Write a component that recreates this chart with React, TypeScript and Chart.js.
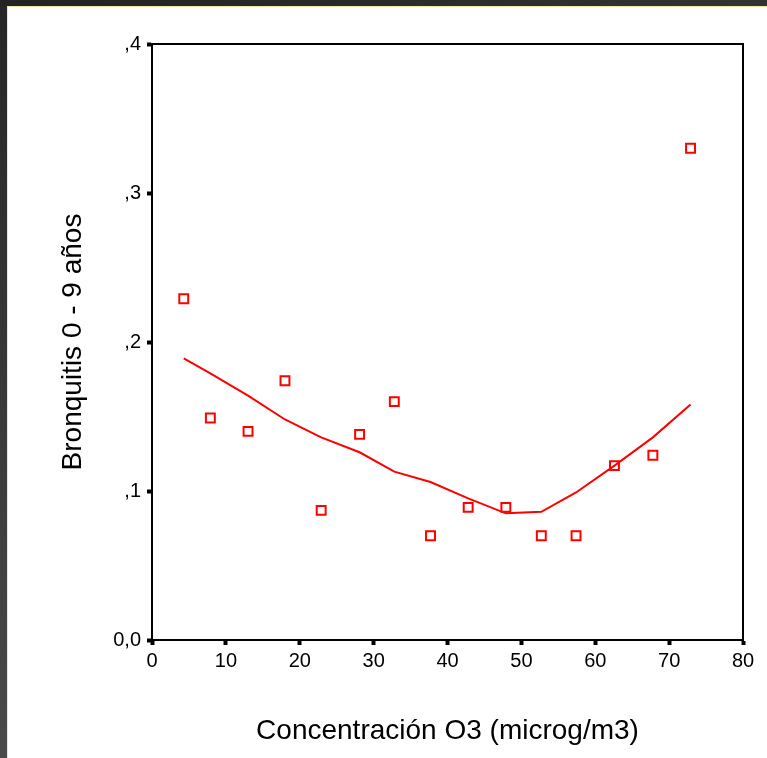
import React, { useEffect, useRef } from "react";
import { Chart, registerables } from "chart.js";

Chart.register(...registerables);

const concentration = [4.3, 7.9, 13.0, 18.0, 22.9, 28.1, 32.8, 37.7, 42.8, 47.9, 52.7, 57.4, 62.6, 67.8, 72.9];
const bronquitis = [0.229, 0.149, 0.140, 0.174, 0.087, 0.138, 0.160, 0.070, 0.089, 0.089, 0.070, 0.070, 0.117, 0.124, 0.330];
const fitted = [0.189, 0.179, 0.164, 0.148, 0.136, 0.126, 0.113, 0.106, 0.095, 0.085, 0.086, 0.099, 0.117, 0.136, 0.158];

const xTitle = "Concentración O3 (microg/m3)";
const yTitle = "Bronquitis 0 - 9 años";

const W = 767;
const H = 758;

const framePlugin = {
  id: "frame",
  beforeDraw(chart: any) {
    const ctx = chart.ctx;
    ctx.save();
    ctx.fillStyle = "#ffffff";
    ctx.fillRect(0, 0, W, H);
    const grad = ctx.createLinearGradient(0, 0, 0, H);
    grad.addColorStop(0, "#262626");
    grad.addColorStop(1, "#4a4a4a");
    ctx.fillStyle = grad;
    ctx.fillRect(0, 0, 7, H);
    const gradTop = ctx.createLinearGradient(0, 0, W, 0);
    gradTop.addColorStop(0, "#232323");
    gradTop.addColorStop(1, "#333333");
    ctx.fillStyle = gradTop;
    ctx.fillRect(0, 0, W, 6);
    ctx.fillStyle = "#efe9a8";
    ctx.fillRect(7, 6, W - 7, 1);
    ctx.fillRect(7, 6, 1, H - 6);
    ctx.restore();
  },
  afterDraw(chart: any) {
    const { ctx, chartArea } = chart;
    ctx.save();
    ctx.strokeStyle = "#000000";
    ctx.lineWidth = 2;
    ctx.beginPath();
    ctx.moveTo(chartArea.left, chartArea.top);
    ctx.lineTo(chartArea.right, chartArea.top);
    ctx.lineTo(chartArea.right, chartArea.bottom);
    ctx.stroke();
    ctx.restore();
  },
};

export default function App() {
  const ref = useRef<HTMLCanvasElement | null>(null);

  useEffect(() => {
    if (!ref.current) return;
    const chart = new Chart(ref.current, {
      type: "scatter",
      data: {
        datasets: [
          {
            type: "line",
            data: concentration.map((x, i) => ({ x, y: fitted[i] })),
            borderColor: "#ff0000",
            borderWidth: 2,
            pointRadius: 0,
            tension: 0,
            fill: false,
          },
          {
            type: "scatter",
            data: concentration.map((x, i) => ({ x, y: bronquitis[i] })),
            pointStyle: "rect",
            pointRadius: 6.3,
            pointBorderWidth: 2,
            borderColor: "#ff0000",
            backgroundColor: "rgba(255,255,255,0)",
          },
        ],
      },
      options: {
        responsive: false,
        animation: false,
        devicePixelRatio: 1,
        layout: { padding: { top: 44, right: 24, left: 0, bottom: 0 } },
        plugins: { legend: { display: false }, tooltip: { enabled: false } },
        scales: {
          x: {
            type: "linear",
            min: 0,
            max: 80,
            afterFit(scale: any) {
              scale.height = 118;
            },
            ticks: {
              stepSize: 10,
              color: "#000000",
              padding: 4,
              font: { family: "'Liberation Sans', Arial, sans-serif", size: 20 },
              maxRotation: 0,
            },
            grid: {
              drawOnChartArea: false,
              drawTicks: true,
              tickLength: 5,
              tickWidth: 4,
              tickColor: "#000000",
            },
            border: { display: true, color: "#000000", width: 2 },
            title: {
              display: true,
              text: xTitle,
              color: "#000000",
              font: { family: "'Liberation Sans', Arial, sans-serif", size: 28 },
              padding: { top: 0, bottom: 10 },
            },
          },
          y: {
            type: "linear",
            min: 0,
            max: 0.4,
            afterFit(scale: any) {
              scale.width = 152;
            },
            ticks: {
              stepSize: 0.1,
              color: "#000000",
              padding: 6,
              font: { family: "'Liberation Sans', Arial, sans-serif", size: 20 },
              callback: (v: any) => {
                const n = Number(v);
                if (Math.abs(n) < 1e-9) return "0,0";
                return "," + String(Math.round(n * 10));
              },
            },
            grid: {
              drawOnChartArea: false,
              drawTicks: true,
              tickLength: 5,
              tickWidth: 4,
              tickColor: "#000000",
            },
            border: { display: true, color: "#000000", width: 2 },
            title: {
              display: true,
              text: yTitle,
              color: "#000000",
              font: { family: "'Liberation Sans', Arial, sans-serif", size: 28 },
              padding: { top: 56, bottom: 0 },
            },
          },
        },
      },
      plugins: [framePlugin],
    });
    return () => chart.destroy();
  }, []);

  return (
    <div style={{ position: "absolute", left: 0, top: 0, width: W, height: H }}>
      <canvas ref={ref} width={W} height={H} style={{ width: W, height: H, display: "block" }} />
    </div>
  );
}
